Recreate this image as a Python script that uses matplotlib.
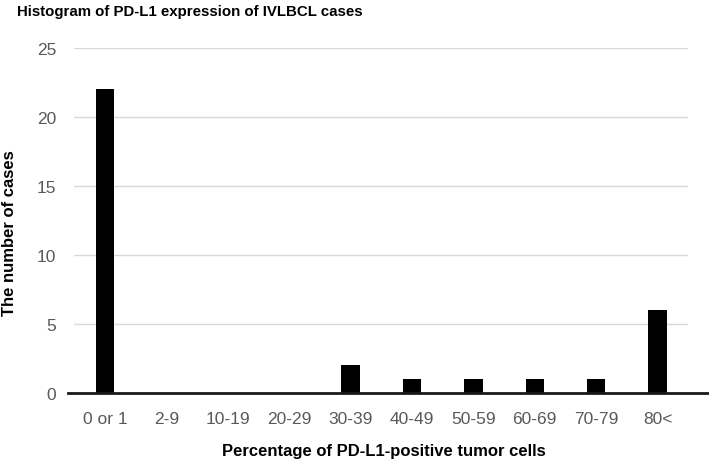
import matplotlib
matplotlib.use("Agg")
import matplotlib.pyplot as plt

categories = ["0 or 1", "2-9", "10-19", "20-29", "30-39", "40-49", "50-59", "60-69", "70-79", "80<"]
counts = [22, 0, 0, 0, 2, 1, 1, 1, 1, 6]
yticks = [0, 5, 10, 15, 20, 25]

FONT = "Liberation Sans"
W, H = 709, 464

fig = plt.figure(figsize=(W / 100, H / 100), dpi=100)
ax = fig.add_axes([74.3 / W, 1 - 394 / H, 614 / W, 345 / H])
x = list(range(len(categories)))
ax.bar(x, counts, width=0.3, color="black", zorder=3)
ax.set_xlim(-0.5, len(categories) - 0.5)
ax.set_ylim(0, 25)
ax.set_yticks(yticks)
ax.set_xticks(x)
ax.set_xticklabels(categories, fontfamily=FONT, fontsize=12.5, color="#595959")
ax.set_yticklabels([str(v) for v in yticks], fontfamily=FONT, fontsize=12.5, color="#595959")
ax.grid(axis="y", color="#d9d9d9", linewidth=1, zorder=0)
for s in ["top", "right", "left", "bottom"]:
    ax.spines[s].set_visible(False)
ax.plot([-0.01, 1.04], [0, 0], transform=ax.get_yaxis_transform(), color="#1a1a1a",
        linewidth=2, clip_on=False, zorder=4)
ax.tick_params(axis="x", length=0, pad=13)
ax.tick_params(axis="y", length=0, pad=13)
fig.text(384 / W, 1 - 452 / H, "Percentage of PD-L1-positive tumor cells", fontfamily=FONT,
         fontweight="bold", fontsize=12, ha="center", va="center")
fig.text(10 / W, 1 - 233 / H, "The number of cases", fontfamily=FONT, fontweight="bold",
         fontsize=12, rotation=90, ha="center", va="center")
fig.text(17 / W, 1 - 12 / H, "Histogram of PD-L1 expression of IVLBCL cases", fontfamily=FONT,
         fontweight="bold", fontsize=10.8, va="center", ha="left")
fig.savefig("out.png", dpi=100)
